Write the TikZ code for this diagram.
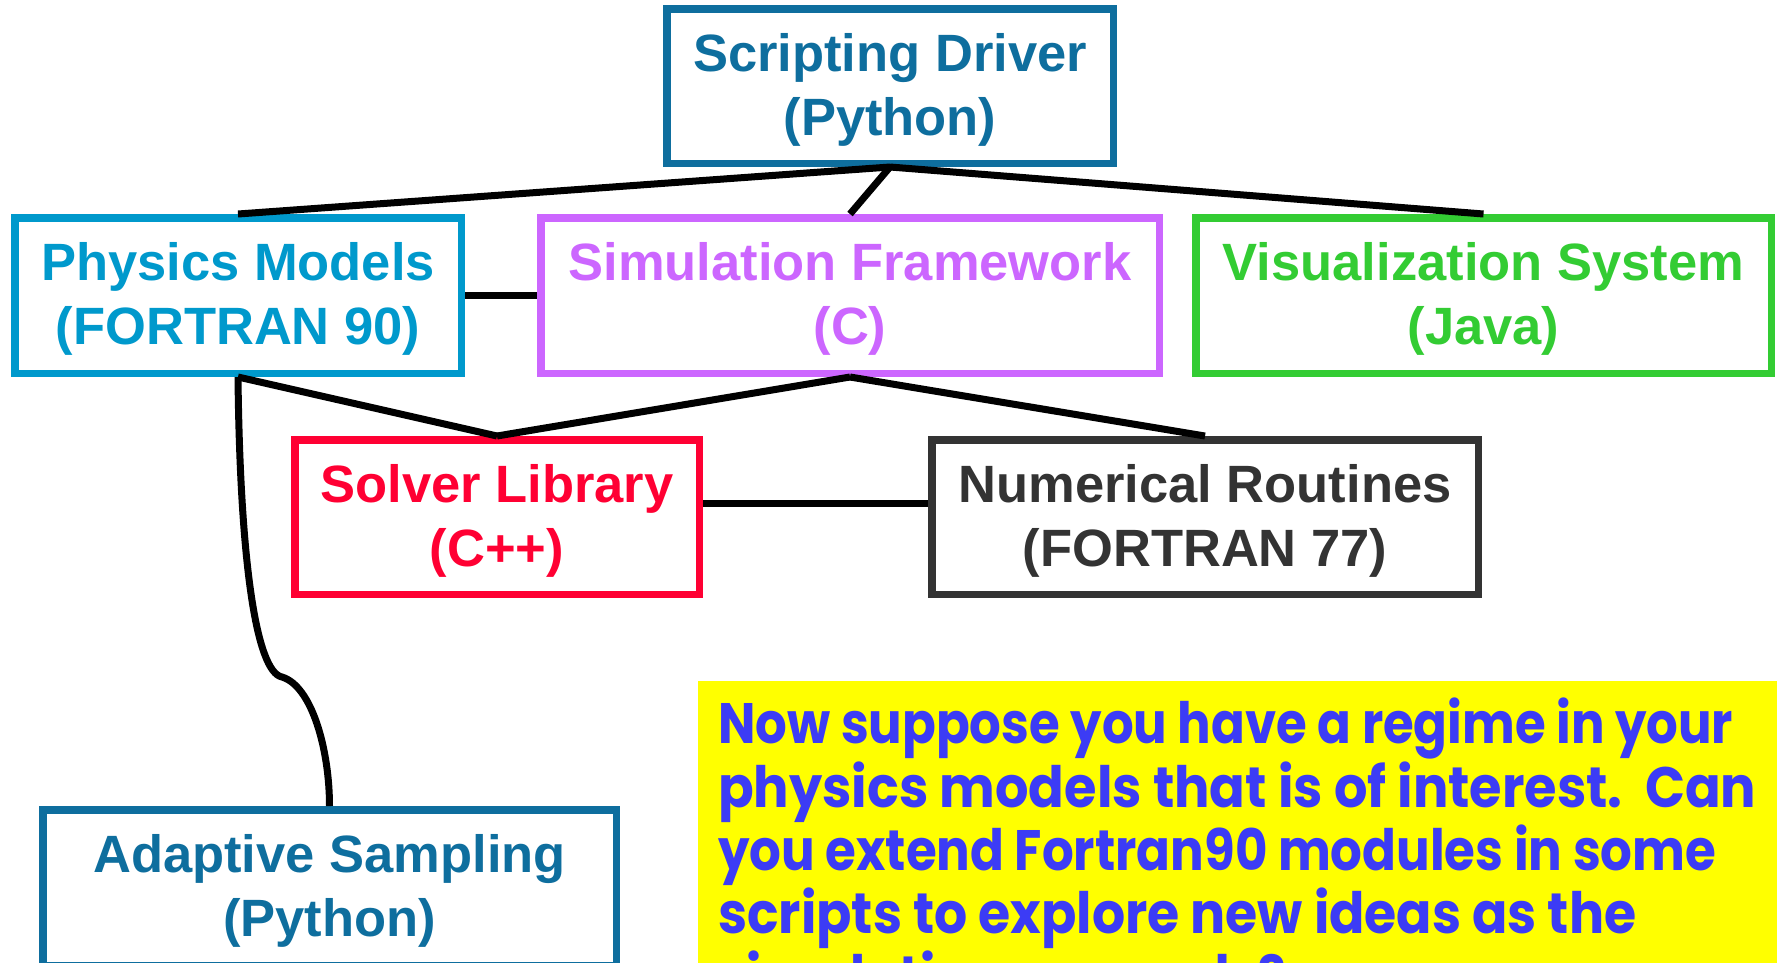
\documentclass[tikz,border=0pt]{standalone}
\usepackage{fontspec}
\setmainfont{Liberation Sans}
\newfontfamily\notefont{Poppins}
\usepackage{graphicx}
\definecolor{drivercol}{HTML}{0E6E9E}
\definecolor{physcol}{HTML}{0099CC}
\definecolor{simcol}{HTML}{CC66FF}
\definecolor{viscol}{HTML}{33CC33}
\definecolor{solvcol}{HTML}{FF0033}
\definecolor{numcol}{HTML}{333333}
\definecolor{notecol}{HTML}{3C3CF5}
\definecolor{noteback}{HTML}{FFFF00}
\newcommand{\topstrut}{\rule{0pt}{45pt}}
\begin{document}
\begin{tikzpicture}[x=1pt,y=-1pt,
  box/.style={draw=#1, text=#1, line width=7.5pt, inner sep=0pt, align=center,
    font=\fontsize{52.5}{64}\selectfont\bfseries, minimum height=155.5pt},
  link/.style={line width=7pt, black},
  noteline/.style={anchor=base west, inner sep=0pt, text=notecol,
    font=\notefont\fontsize{57}{63.5}\selectfont\bfseries}]
\clip (0,0) rectangle (1777,962);
\fill[white] (0,0) rectangle (1777,962);

% yellow note
\fill[noteback] (698,681) rectangle (1800,1000);
\node[noteline] (n1) at (718,743) {\resizebox{1015pt}{\height}{Now suppose you have a regime in your}};
\node[noteline] (n2) at (718,807) {\resizebox{1038pt}{\height}{physics models that is of interest.\ \ Can}};
\node[noteline] (n3) at (718,870) {\resizebox{998pt}{\height}{you extend Fortran90 modules in some}};
\node[noteline] (n4) at (718,933) {\resizebox{918pt}{\height}{scripts to explore new ideas as the}};
\node[noteline] (n5) at (718,996) {\resizebox{568pt}{\height}{simulation proceeds?}};

% boxes
\node[box=drivercol, minimum width=446.5pt, minimum height=154.5pt] (driver) at (890,86) {\topstrut Scripting Driver\\(Python)};
\node[box=physcol, minimum width=446.5pt] (physics) at (238,295.5) {\topstrut Physics Models\\(FORTRAN 90)};
\node[box=simcol, minimum width=618.5pt] (sim) at (850,295.5) {\topstrut Simulation Framework\\(C)};
\node[box=viscol, minimum width=575.5pt] (vis) at (1483.5,295.5) {\topstrut Visualization System\\(Java)};
\node[box=solvcol, minimum width=404.5pt, minimum height=154.5pt] (solver) at (497,517) {\topstrut Solver Library\\(C++)};
\node[box=numcol, minimum width=546.5pt, minimum height=154.5pt] (numerical) at (1205,517) {\topstrut Numerical Routines\\(FORTRAN 77)};
\node[box=drivercol, minimum width=573.5pt] (adaptive) at (329.5,887.5) {\topstrut Adaptive Sampling\\(Python)};

% connectors
\draw[link] (driver.south) -- (physics.north);
\draw[link] (driver.south) -- (sim.north);
\draw[link] (driver.south) -- (vis.north);
\draw[link] (physics.east) -- (sim.west);
\draw[link] (physics.south) -- (solver.north);
\draw[link] (sim.south) -- (solver.north);
\draw[link] (sim.south) -- (numerical.north);
\draw[link] ([yshift=14pt]solver.east) -- ([yshift=14pt]numerical.west);
\coordinate (knee) at (282,677);
\draw[link] (physics.south) .. controls (240,560) and (256,672) .. (knee)
  .. controls (312,686) and (329.5,750) .. (adaptive.north);
\end{tikzpicture}
\end{document}
